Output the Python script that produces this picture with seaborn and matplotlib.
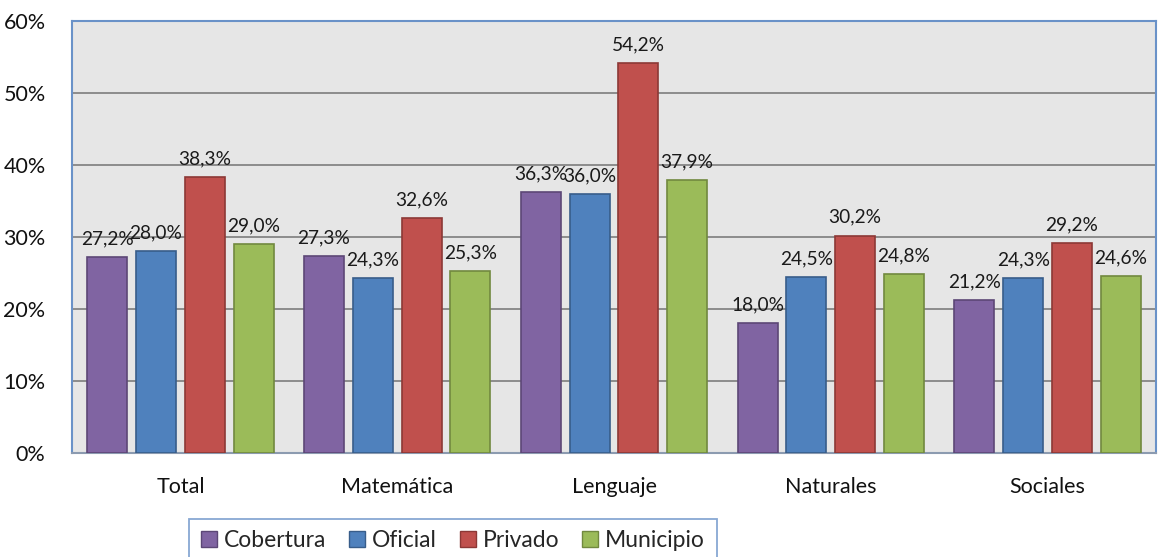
import matplotlib
matplotlib.use("Agg")
import matplotlib.pyplot as plt
import seaborn as sns
import pandas as pd

# Data
categories = ["Total", "Matemática", "Lenguaje", "Naturales", "Sociales"]
series = ["Cobertura", "Oficial", "Privado", "Municipio"]
cobertura = [27.2, 27.3, 36.3, 18.0, 21.2]
oficial = [28.0, 24.3, 36.0, 24.5, 24.3]
privado = [38.3, 32.6, 54.2, 30.2, 29.2]
municipio = [29.0, 25.3, 37.9, 24.8, 24.6]
y_ticks = [0, 10, 20, 30, 40, 50, 60]

colors = ["#8064A2", "#4F81BD", "#C0504D", "#9BBB59"]
edges = ["#5C4776", "#385D8A", "#8C3836", "#71893F"]

rows = []
for name, vals in zip(series, [cobertura, oficial, privado, municipio]):
    for cat, v in zip(categories, vals):
        rows.append({"area": cat, "serie": name, "valor": v})
df = pd.DataFrame(rows)

sns.set_style("white")
plt.rcParams["font.family"] = ["Lato", "DejaVu Sans"]

fig = plt.figure(figsize=(11.74, 5.57), dpi=100)
ax = fig.add_axes([72 / 1174, 1 - 453 / 557, (1156 - 72) / 1174, (453 - 21) / 557])

sns.barplot(data=df, x="area", y="valor", hue="serie", order=categories,
            hue_order=series, palette=colors, width=0.9, gap=0.18,
            linewidth=1.2, saturation=1, legend=False, ax=ax, zorder=3)

for cont, ec in zip(ax.containers, edges):
    for bar in cont:
        bar.set_edgecolor(ec)
    ax.bar_label(cont, fmt=lambda v: f"{v:.1f}%".replace(".", ","),
                 padding=7, fontsize=13.8, color="#1a1a1a")

ax.set_facecolor("#E6E6E6")
ax.set_ylim(0, 60)
ax.set_xlim(-0.5, len(categories) - 0.5)
ax.set_yticks(y_ticks)
ax.set_yticklabels([f"{t}%" for t in y_ticks])
ax.yaxis.grid(True, color="#8C8C8C", linewidth=1.4, zorder=0)
ax.set_axisbelow(True)
ax.tick_params(axis="y", length=0, pad=19, labelsize=15.5, labelcolor="#111111")
ax.tick_params(axis="x", length=0, pad=17, labelsize=15.5, labelcolor="#111111")
ax.set_xlabel("")
ax.set_ylabel("")
for s in ax.spines.values():
    s.set_color("#6A92C8")
    s.set_linewidth(1.5)
ax.spines["bottom"].set_color("#8C9BB0")

handles = [plt.Rectangle((0, 0), 1, 1, facecolor=c, edgecolor=e, linewidth=1)
           for c, e in zip(colors, edges)]
leg = fig.legend(handles, series, loc="upper center",
                 bbox_to_anchor=(453 / 1174, 1 - 519 / 557), ncol=4,
                 fontsize=16.5, frameon=True, fancybox=False,
                 handlelength=0.7, handleheight=0.7, handletextpad=0.3,
                 columnspacing=1.0, borderpad=0.5, borderaxespad=0)
leg.get_frame().set_edgecolor("#6A92C8")
leg.get_frame().set_linewidth(1.3)

fig.savefig("out.png", dpi=100)
